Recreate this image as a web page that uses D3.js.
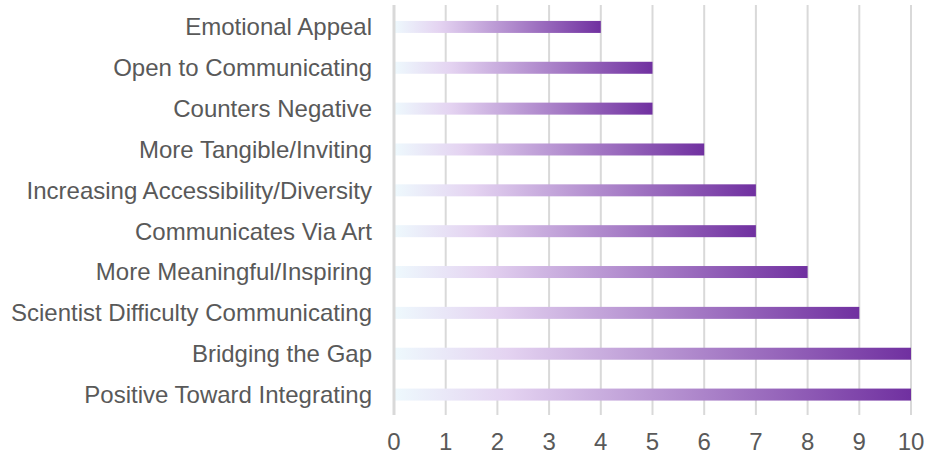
<!DOCTYPE html>
<html lang="en">
<head>
<meta charset="UTF-8">
<title>Bar</title>
<script src="https://d3js.org/d3.v7.min.js"></script>
<style>
  body { margin: 0; background: #fff; }
  text { font-family: "Liberation Sans", Arial, sans-serif; fill: #595959; }
</style>
</head>
<body>
<div id="chart"></div>
<script>
var categories = ["Emotional Appeal", "Open to Communicating", "Counters Negative",
  "More Tangible/Inviting", "Increasing Accessibility/Diversity", "Communicates Via Art",
  "More Meaningful/Inspiring", "Scientist Difficulty Communicating", "Bridging the Gap",
  "Positive Toward Integrating"];
var values = [4, 5, 5, 6, 7, 7, 8, 9, 10, 10];
var ticks = [0, 1, 2, 3, 4, 5, 6, 7, 8, 9, 10];

var W = 929, H = 457;
var margin = {top: 6.5, right: 18, bottom: 42, left: 394};

var svg = d3.select("#chart").append("svg")
  .attr("width", W).attr("height", H);

var x = d3.scaleLinear().domain([0, 10]).range([margin.left, 911]);
var y = d3.scaleBand().domain(categories)
  .range([margin.top, H - margin.bottom]).paddingInner(0.7).paddingOuter(0.35);

var grad = svg.append("defs").append("linearGradient")
  .attr("id", "barGrad").attr("x1", "0%").attr("x2", "100%").attr("y1", "0%").attr("y2", "0%");
grad.append("stop").attr("offset", "0%").attr("stop-color", "#eef9fd");
grad.append("stop").attr("offset", "22%").attr("stop-color", "#e4d3f1");
grad.append("stop").attr("offset", "100%").attr("stop-color", "#7030a0");

// grid
svg.append("g").selectAll("line").data(ticks.slice(1)).enter().append("line")
  .attr("x1", function(d) { return x(d); }).attr("x2", function(d) { return x(d); })
  .attr("y1", 5).attr("y2", 415)
  .attr("stroke", "#d9d9d9").attr("stroke-width", 2);

// bars
svg.append("g").selectAll("rect").data(values).enter().append("rect")
  .attr("x", x(0))
  .attr("y", function(d, i) { return y(categories[i]) + y.bandwidth() / 2 - 6; })
  .attr("width", function(d) { return x(d) - x(0); })
  .attr("height", 12)
  .attr("fill", "url(#barGrad)");

// axis line
svg.append("line").attr("x1", x(0)).attr("x2", x(0)).attr("y1", 5).attr("y2", 415)
  .attr("stroke", "#d9d9d9").attr("stroke-width", 3);

// category labels
svg.append("g").selectAll("text").data(categories).enter().append("text")
  .attr("x", 372)
  .attr("y", function(d) { return y(d) + y.bandwidth() / 2; })
  .attr("dy", "0.35em")
  .attr("text-anchor", "end")
  .style("font-size", "24px")
  .text(function(d) { return d; });

// tick labels
svg.append("g").selectAll("text").data(ticks).enter().append("text")
  .attr("x", function(d) { return x(d); })
  .attr("y", 450)
  .attr("text-anchor", "middle")
  .style("font-size", "24px")
  .text(function(d) { return d; });
</script>
</body>
</html>
